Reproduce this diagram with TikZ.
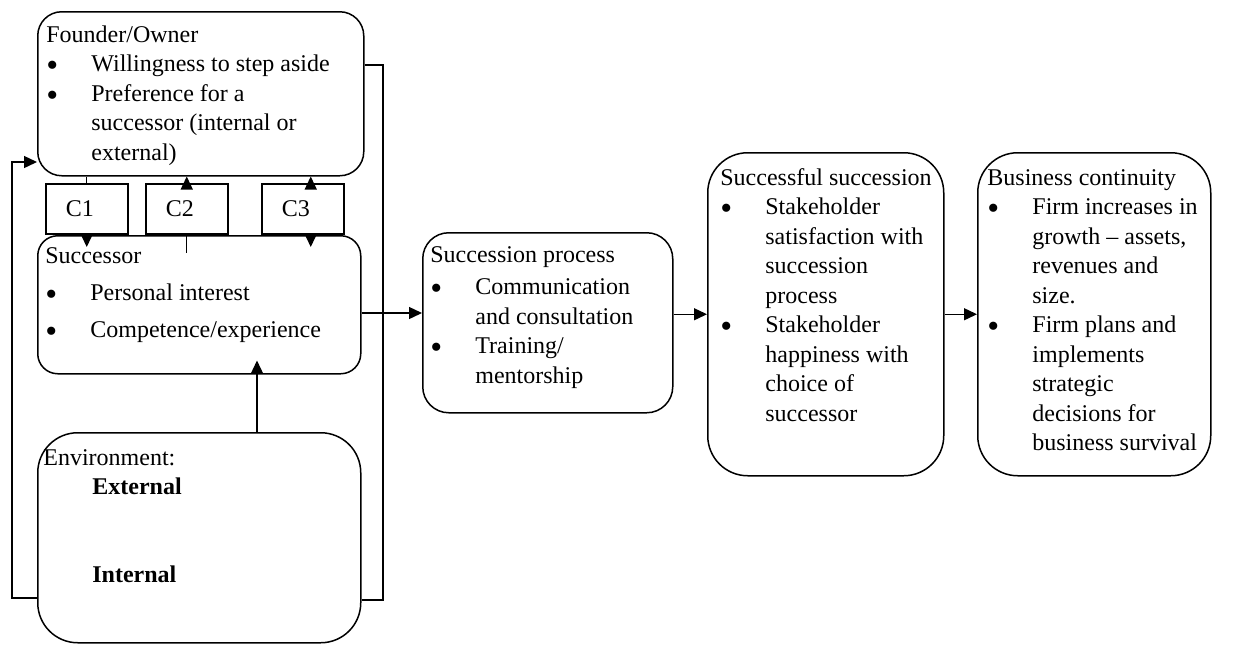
\documentclass[tikz,border=0pt]{standalone}
\usepackage{fontspec}
\setmainfont{Liberation Serif}
\usetikzlibrary{arrows.meta}

\newcommand{\bul}{\makebox[22.5pt][l]{\smash{\raisebox{-2.3pt}{\fontsize{17pt}{17pt}\selectfont\textbullet}}}}
\newcommand{\ind}{\hspace*{22.5pt}}

\begin{document}
\begin{tikzpicture}[x=0.5pt, y=-0.5pt,
    box/.style={draw, line width=0.75pt, rounded corners=#1, anchor=north west, inner sep=0pt},
    box/.default=12pt,
    cbox/.style={draw, line width=0.75pt, anchor=north west, minimum width=41pt, minimum height=25pt,
                 text width=21pt, inner xsep=10pt, align=left, font=\fontsize{12pt}{14.75pt}\selectfont},
    txt/.style={anchor=north west, inner sep=0pt, align=left, font=\fontsize{12pt}{14.75pt}\selectfont},
    link/.style={line width=0.7pt},
    arr/.style={link, -{Triangle[length=6.5pt,width=6pt]}}]
  \useasboundingbox (0,0) rectangle (1244,644);

  % boxes
  \node[box=12pt, minimum width=163pt, minimum height=82pt] (founder) at (37,11) {};
  \node[box=10pt, minimum width=161.5pt, minimum height=69pt] (successor) at (37,235) {};
  \node[box=20pt, minimum width=161.5pt, minimum height=105pt] (env) at (37,432) {};
  \node[box=13pt, minimum width=125pt, minimum height=90pt] (process) at (422,232) {};
  \node[box=20pt, minimum width=118pt, minimum height=161.5pt] (success) at (707,152) {};
  \node[box=20pt, minimum width=116.5pt, minimum height=161.5pt] (continuity) at (977,152) {};

  \node[cbox] (c1) at (45,183) {C1};
  \node[cbox] (c2) at (145,183) {C2};
  \node[cbox] (c3) at (261,183) {C3};

  % texts
  \node[txt] (founder-txt) at (46,21.4) {\strut Founder/Owner\\ \bul Willingness to step aside\\
      \bul Preference for a\\ \ind successor (internal or\\ \ind external)};
  \node[txt] (successor-txt) at (45,242.4) {\strut Successor\\[3.75pt] \bul Personal interest\\[3.75pt]
      \bul Competence/experience};
  \node[txt] (env-txt) at (43,444.4) {\strut Environment:\\ \hspace*{24.5pt}\textbf{External}\\[29.25pt]
      \hspace*{24.5pt}\textbf{Internal}};
  \node[txt] (process-txt) at (430,241.4) {\strut Succession process\\[1.5pt] \bul Communication\\
      \ind and consultation\\ \bul Training/\\ \ind mentorship};
  \node[txt] (success-txt) at (720,164.4) {\strut Successful succession\\ \bul Stakeholder\\
      \ind satisfaction with\\ \ind succession\\ \ind process\\ \bul Stakeholder\\
      \ind happiness with\\ \ind choice of\\ \ind successor};
  \node[txt] (continuity-txt) at (987,164.4) {\strut Business continuity\\ \bul Firm increases in\\
      \ind growth -- assets,\\ \ind revenues and\\ \ind size.\\ \bul Firm plans and\\
      \ind implements\\ \ind strategic\\ \ind decisions for\\ \ind business survival};

  % links between founder, C1-C3 and successor
  \draw[link] (c1.north) -- (c1.north |- founder.south);
  \draw[arr, shorten >=-6pt] (c1.south) -- (c1.south |- successor.north);
  \draw[arr] (c2.north) -- (c2.north |- founder.south);
  \draw[link] (c2.south) -- ([yshift=-9pt]c2.south |- successor.north);
  \draw[arr] ([xshift=4pt]c3.north) -- ([xshift=4pt]c3.north |- founder.south);
  \draw[arr, shorten >=-6pt] ([xshift=4pt]c3.south) -- ([xshift=4pt]c3.south |- successor.north);

  % loops round the left column
  \draw[arr] (env.west |- 0,598) -- (12,598) -- (12,162) -- (founder.west |- 0,162);
  \draw[link] (founder.east |- 0,65) -- (383,65) -- (383,600) -- (env.east |- 0,600);
  \draw[arr, shorten >=-7pt] (env.north -| 257,0) -- (successor.south -| 257,0);

  % main flow
  \draw[arr] (successor.east |- 0,313) -- (process.west |- 0,313);
  \draw[arr] (process.east |- success.west) -- (success.west);
  \draw[arr] (success.east) -- (continuity.west);
\end{tikzpicture}
\end{document}
